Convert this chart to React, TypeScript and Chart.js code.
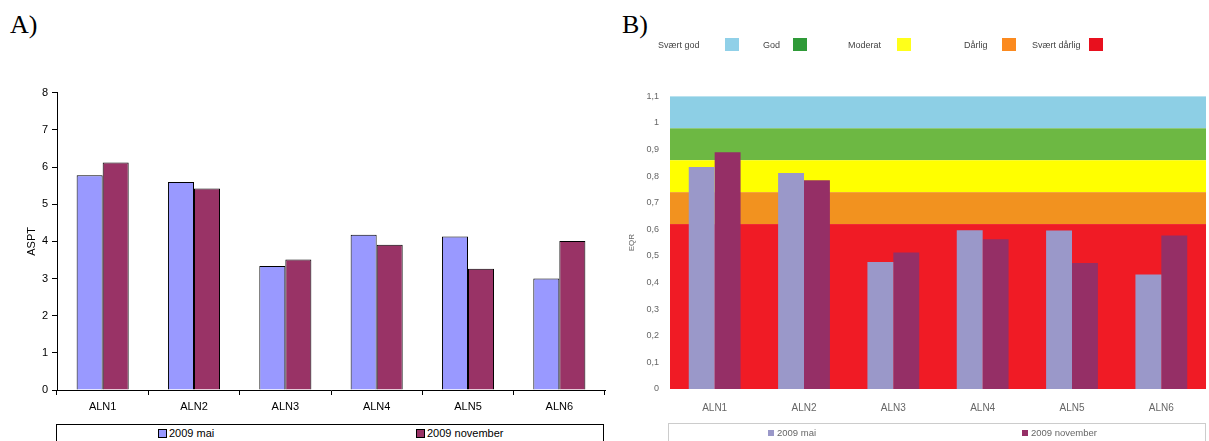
import React, { useEffect, useRef } from 'react';
import { Chart, registerables } from 'chart.js';
Chart.register(...registerables);

const categories = ['ALN1', 'ALN2', 'ALN3', 'ALN4', 'ALN5', 'ALN6'];
const seriesNames = ['2009 mai', '2009 november'];
const asptMai = [5.78, 5.6, 3.34, 4.18, 4.13, 3.0];
const asptNov = [6.12, 5.42, 3.51, 3.91, 3.26, 4.01];
const asptTicksMax = 8;
const eqrMai = [0.835, 0.812, 0.477, 0.597, 0.596, 0.43];
const eqrNov = [0.89, 0.785, 0.513, 0.563, 0.474, 0.577];
const eqrMax = 1.1;
const classNames = ['Svært god', 'God', 'Moderat', 'Dårlig', 'Svært dårlig'];
const classUpper = [1.1, 0.98, 0.86, 0.74, 0.62];
const classLower = [0.98, 0.86, 0.74, 0.62, 0];
const bandColors = ['#8dcfe5', '#6db843', '#ffff00', '#f2921f', '#f01b25'];
const swatchColors = ['#90d0e8', '#2f9a38', '#ffff1a', '#fb8a1f', '#e8101e'];

const SANS = '"Liberation Sans", Arial, sans-serif';

const bandPlugin = {
  id: 'bands',
  beforeDatasetsDraw(chart: any) {
    const { ctx, chartArea, scales } = chart;
    const y = scales.y;
    ctx.save();
    for (let i = 0; i < classNames.length; i++) {
      const top = y.getPixelForValue(classUpper[i]);
      const bot = y.getPixelForValue(classLower[i]);
      ctx.fillStyle = bandColors[i];
      ctx.fillRect(chartArea.left, top, chartArea.right - chartArea.left, bot - top);
    }
    ctx.restore();
  },
};

export default function App() {
  const leftRef = useRef<HTMLCanvasElement | null>(null);
  const rightRef = useRef<HTMLCanvasElement | null>(null);

  useEffect(() => {
    document.body.style.margin = '0';
    const left = new Chart(leftRef.current as HTMLCanvasElement, {
      type: 'bar',
      data: {
        labels: categories,
        datasets: [
          { label: seriesNames[0], data: asptMai, backgroundColor: '#9999ff', borderColor: '#000', borderWidth: 1, categoryPercentage: 0.57, barPercentage: 1 },
          { label: seriesNames[1], data: asptNov, backgroundColor: '#993366', borderColor: '#000', borderWidth: 1, categoryPercentage: 0.57, barPercentage: 1 },
        ],
      },
      options: {
        responsive: false,
        animation: false,
        devicePixelRatio: 1,
        layout: { padding: { top: 12.7, right: 10, left: 0, bottom: 0 } },
        plugins: { legend: { display: false }, tooltip: { enabled: false } },
        scales: {
          x: {
            afterFit: (s: any) => { s.height = 30; },
            grid: { display: true, drawOnChartArea: false, drawTicks: true, tickLength: 5, color: '#000', offset: true },
            border: { display: true, color: '#000', width: 1 },
            ticks: { color: '#000', font: { family: SANS, size: 11 }, padding: 5, maxRotation: 0 },
          },
          y: {
            min: 0,
            max: asptTicksMax,
            afterFit: (s: any) => { s.width = 57; },
            grid: { display: true, drawOnChartArea: false, drawTicks: true, tickLength: 5, color: '#000' },
            border: { display: true, color: '#000', width: 1 },
            ticks: { stepSize: 1, color: '#000', font: { family: SANS, size: 11 }, padding: 4 },
            title: { display: true, text: 'ASPT', color: '#000', font: { family: SANS, size: 11 }, padding: { top: 25, bottom: 0 } },
          },
        },
      },
    });

    const right = new Chart(rightRef.current as HTMLCanvasElement, {
      type: 'bar',
      data: {
        labels: categories,
        datasets: [
          { label: seriesNames[0], data: eqrMai, backgroundColor: '#9a98c9', borderWidth: 0, categoryPercentage: 0.58, barPercentage: 1 },
          { label: seriesNames[1], data: eqrNov, backgroundColor: '#952f66', borderWidth: 0, categoryPercentage: 0.58, barPercentage: 1 },
        ],
      },
      options: {
        responsive: false,
        animation: false,
        devicePixelRatio: 1,
        layout: { padding: { top: 9.3, right: 3, left: 0, bottom: 0 } },
        plugins: { legend: { display: false }, tooltip: { enabled: false } },
        scales: {
          x: {
            afterFit: (s: any) => { s.height = 31; },
            grid: { display: false, drawTicks: false },
            border: { display: false },
            ticks: { color: '#666', font: { family: SANS, size: 10 }, padding: 13, maxRotation: 0 },
          },
          y: {
            min: 0,
            max: eqrMax,
            afterFit: (s: any) => { s.width = 60; },
            grid: { display: false, drawTicks: false },
            border: { display: false },
            ticks: {
              stepSize: 0.1,
              color: '#666',
              font: { family: SANS, size: 9 },
              padding: 11,
              callback: (v: any) => String(Math.round(Number(v) * 10) / 10).replace('.', ','),
            },
            title: { display: true, text: 'EQR', color: '#666', font: { family: SANS, size: 8 }, padding: { top: 17, bottom: 0 } },
          },
        },
      },
      plugins: [bandPlugin],
    });

    return () => {
      left.destroy();
      right.destroy();
    };
  }, []);

  const panelLabel = (text: string, x: number): React.ReactNode => (
    <div style={{ position: 'absolute', left: x, top: 12, fontFamily: '"Liberation Serif", "Times New Roman", serif', fontSize: 26, lineHeight: '26px', color: '#000' }}>{text}</div>
  );

  const topLegendX = [658, 763, 848, 964, 1032];
  const topSwatchX = [725, 793, 897, 1002, 1089];

  return (
    <div style={{ position: 'fixed', left: 0, top: 0, width: 1209, height: 441, background: '#fff', overflow: 'hidden' }}>
      {panelLabel('A)', 10)}
      {panelLabel('B)', 622)}
      <canvas ref={leftRef} width={615} height={340} style={{ position: 'absolute', left: 0, top: 80 }} />
      <div style={{ position: 'absolute', left: 56, top: 424, width: 548, height: 30, border: '1px solid #000', boxSizing: 'border-box' }}>
        {seriesNames.map((n, i) => (
          <div key={n} style={{ position: 'absolute', left: i === 0 ? 101 : 359, top: 2, fontFamily: SANS, fontSize: 11, lineHeight: '13px', color: '#000', whiteSpace: 'nowrap' }}>
            <span style={{ display: 'inline-block', width: 7, height: 7, border: '1px solid #000', background: i === 0 ? '#9999ff' : '#993366', marginRight: 2, verticalAlign: '-1px' }} />
            {n}
          </div>
        ))}
      </div>
      <div style={{ position: 'absolute', left: 610, top: 0, width: 599, height: 441, filter: 'blur(0.6px)' }}>
        <canvas ref={rightRef} width={599} height={340} style={{ position: 'absolute', left: 0, top: 80 }} />
        {classNames.map((n, i) => (
          <React.Fragment key={n}>
            <div style={{ position: 'absolute', left: topLegendX[i] - 610, top: 39, fontFamily: SANS, fontSize: 9, lineHeight: '12px', color: '#444', whiteSpace: 'nowrap' }}>{n}</div>
            <div style={{ position: 'absolute', left: topSwatchX[i] - 610, top: 38, width: 14, height: 13, background: swatchColors[i] }} />
          </React.Fragment>
        ))}
        <div style={{ position: 'absolute', left: 58, top: 423, width: 538, height: 30, border: '1px solid #ccc', boxSizing: 'border-box' }}>
          {seriesNames.map((n, i) => (
            <div key={n} style={{ position: 'absolute', left: i === 0 ? 99 : 353, top: 3, fontFamily: SANS, fontSize: 9.5, lineHeight: '12px', color: '#666', whiteSpace: 'nowrap' }}>
              <span style={{ display: 'inline-block', width: 6, height: 6, background: i === 0 ? '#9a98c9' : '#952f66', marginRight: 3, verticalAlign: '0px' }} />
              {n}
            </div>
          ))}
        </div>
      </div>
    </div>
  );
}
